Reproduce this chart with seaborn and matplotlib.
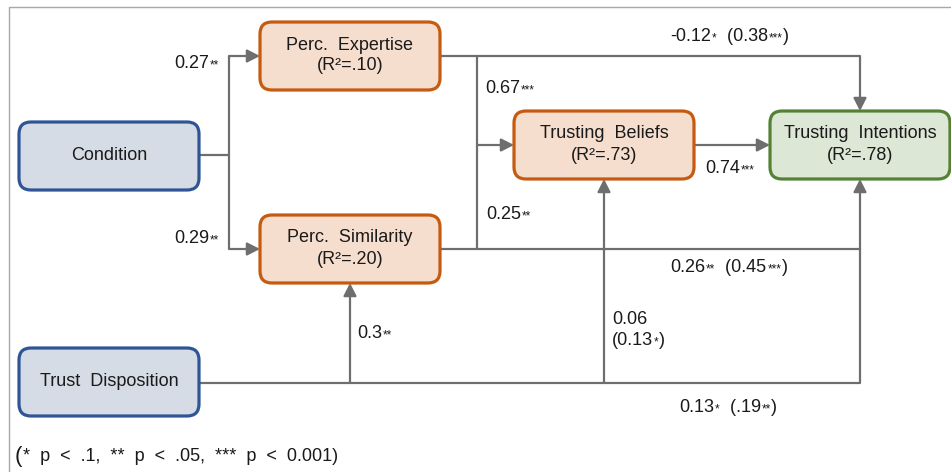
import matplotlib
matplotlib.use("Agg")
import matplotlib.pyplot as plt
from matplotlib.patches import FancyBboxPatch
import seaborn as sns

# ---------------- data ----------------
node_names = ["Condition", "Trust  Disposition", "Perc.  Expertise",
              "Perc.  Similarity", "Trusting  Beliefs", "Trusting  Intentions"]
node_r2 = [None, None, ".10", ".20", ".73", ".78"]
node_kind = ["input", "input", "mediator", "mediator", "mediator", "outcome"]

# path coefficient labels: list of (text, is_star) pieces
coef_labels = [
    [("0.27", False), ("**", True)],
    [("0.29", False), ("**", True)],
    [("-0.12", False), ("*", True), ("  (0.38", False), ("***", True), (")", False)],
    [("0.67", False), ("***", True)],
    [("0.25", False), ("**", True)],
    [("0.74", False), ("***", True)],
    [("0.26", False), ("**", True), ("  (0.45", False), ("***", True), (")", False)],
    [("0.3", False), ("**", True)],
    [("0.06", False)],
    [("(0.13", False), ("*", True), (")", False)],
    [("0.13", False), ("*", True), ("  (.19", False), ("**", True), (")", False)],
]
footnote_open = "("
footnote = "*  p  <  .1,  **  p  <  .05,  ***  p  <  0.001)"

# ---------------- layout / style ----------------
node_cx = [109, 109, 350, 350, 604, 860]
node_cy = [156, 382, 56, 249, 145, 145]
box_w, box_h = 180, 68
label_x = [174, 174, 670, 485, 486, 705, 670, 357, 612, 612, 679]
label_y = [62, 237, 35, 87, 213, 167, 266, 332, 318, 339, 406]

fills = {"input": "#D6DCE5", "mediator": "#F6DECE", "outcome": "#DDE7D5"}
edges = {"input": "#2F5597", "mediator": "#C55A11", "outcome": "#548235"}
line_c = "#6E6E6E"
text_c = "#1A1A1A"

sns.set_theme(style="white")
plt.rcParams["font.family"] = ["Liberation Sans", "DejaVu Sans"]

fig = plt.figure(figsize=(9.51, 4.72), dpi=100)
ax = fig.add_axes([0, 0, 1, 1])
ax.set_xlim(0, 951)
ax.set_ylim(472, 0)
ax.axis("off")

# outer frame
ax.plot([9, 9, 951], [472, 7, 7], color="#A8A8A8", lw=1.0)

LW = 1.6


def seg(xs, ys):
    ax.plot(xs, ys, color=line_c, lw=LW, solid_capstyle="butt", zorder=1)


def arrow(start, tip):
    ax.annotate("", xy=tip, xytext=start,
                arrowprops=dict(arrowstyle="-|>,head_length=0.55,head_width=0.28",
                                color=line_c, lw=LW, shrinkA=0, shrinkB=0,
                                mutation_scale=14), zorder=1)


# connectors
seg([199, 229], [155, 155])
seg([229, 229], [56, 249])
arrow((229, 56), (260, 56))
arrow((229, 249), (260, 249))
seg([440, 860], [56, 56])
arrow((860, 56), (860, 111))
seg([477, 477], [56, 249])
arrow((477, 145), (514, 145))
seg([440, 860], [249, 249])
seg([199, 860], [383, 383])
arrow((350, 383), (350, 283))
arrow((604, 383), (604, 179))
arrow((860, 383), (860, 179))
arrow((694, 145), (770, 145))

# boxes
for name, r2, kind, cx, cy in zip(node_names, node_r2, node_kind, node_cx, node_cy):
    p = FancyBboxPatch((cx - box_w / 2, cy - box_h / 2), box_w, box_h,
                       boxstyle="round,pad=0,rounding_size=12",
                       fc=fills[kind], ec=edges[kind], lw=2.3, zorder=3)
    ax.add_patch(p)
    if r2 is None:
        ax.text(cx, cy, name, ha="center", va="center", fontsize=13,
                color=text_c, zorder=4)
    else:
        ax.text(cx, cy - 11, name, ha="center", va="center", fontsize=13,
                color=text_c, zorder=4)
        ax.text(cx, cy + 10, f"(R²={r2})", ha="center", va="center",
                fontsize=13, color=text_c, zorder=4)


def rich(x, y, pieces):
    base = y + 6
    prev = None
    for s, star in pieces:
        fs = 8.5 if star else 13
        gap = 0.6 if star else 0.2
        if prev is None:
            prev = ax.text(x, base, s, ha="left", va="baseline", fontsize=fs,
                           color=text_c)
        else:
            prev = ax.annotate(s, xy=(1, base), xycoords=(prev, "data"),
                               xytext=(gap, 0), textcoords="offset points",
                               ha="left", va="baseline", fontsize=fs,
                               color=text_c)


for pieces, lx, ly in zip(coef_labels, label_x, label_y):
    rich(lx, ly, pieces)

# footnote with enlarged opening parenthesis
fp = ax.text(15, 462, footnote_open, ha="left", va="baseline", fontsize=16,
             color=text_c)
ax.annotate(footnote, xy=(1, 461), xycoords=(fp, "data"), xytext=(0.5, 0),
            textcoords="offset points", ha="left", va="baseline",
            fontsize=13, color=text_c)

fig.savefig("out.png", dpi=100)
